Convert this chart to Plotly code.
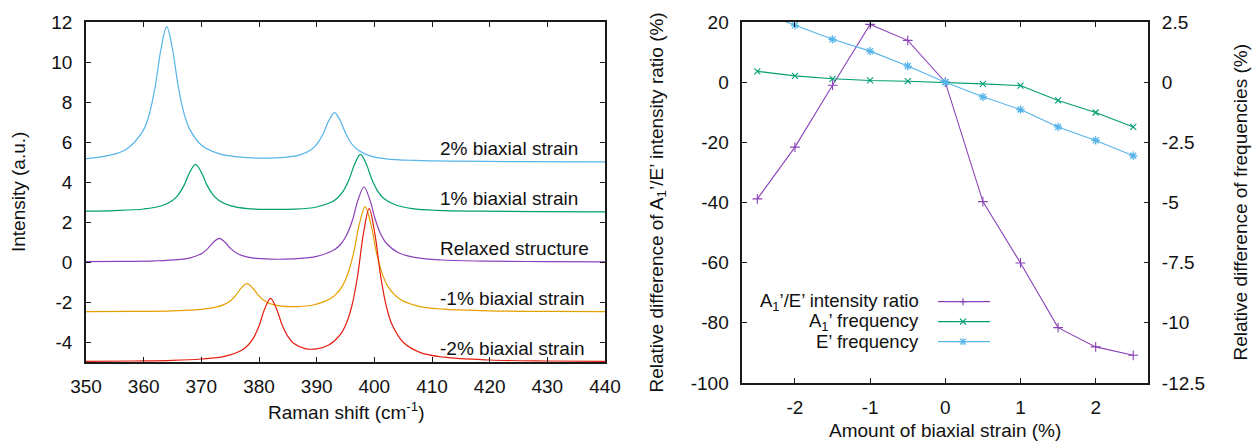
import plotly.graph_objects as go

W, H = 1252, 441

# ---------------- Left panel: Raman spectra ----------------
spec_names = ["2% biaxial strain", "1% biaxial strain", "Relaxed structure",
              "-1% biaxial strain", "-2% biaxial strain"]
spec_offsets = [5.0, 2.5, 0.0, -2.5, -5.0]

x_p2 = [350, 354, 357, 360, 361, 362, 363, 364, 365, 366, 367, 368, 370, 373, 378, 383,
        387.1, 389.1, 390.1, 391.1, 392.1, 393.1, 394.1, 395.1, 396.1, 397.1, 399.1, 402.1,
        407, 415, 425, 440]
y_p2 = [5.17, 5.33, 5.64, 6.62, 7.42, 8.77, 10.64, 11.77, 10.65, 8.77, 7.43, 6.63, 5.85,
        5.42, 5.22, 5.21, 5.36, 5.63, 5.92, 6.40, 7.07, 7.47, 7.06, 6.39, 5.90, 5.61, 5.32,
        5.16, 5.08, 5.04, 5.02, 5.01]

x_p1 = [350, 355, 360, 363, 365, 366, 367, 368, 369, 370, 371, 372, 373, 375, 378, 382,
        386, 390, 392.6, 393.6, 394.6, 395.6, 396.6, 397.6, 398.6, 399.6, 400.6, 401.6,
        403.6, 406.6, 411, 418, 428, 440]
y_p1 = [2.54, 2.57, 2.65, 2.80, 3.08, 3.36, 3.83, 4.49, 4.88, 4.49, 3.83, 3.37, 3.09, 2.82,
        2.67, 2.63, 2.64, 2.75, 3.00, 3.20, 3.54, 4.11, 4.90, 5.38, 4.90, 4.11, 3.53, 3.19,
        2.86, 2.67, 2.58, 2.54, 2.52, 2.51]

x_0 = [350, 356, 362, 366, 368.1, 369.1, 370.1, 371.1, 372.1, 373.1, 374.1, 375.1, 376.1,
       377.1, 379.1, 382, 386, 390, 393.2, 394.2, 395.2, 396.2, 397.2, 398.2, 399.2, 400.2,
       401.2, 402.2, 404.2, 407.2, 412, 420, 430, 440]
y_0 = [0.02, 0.03, 0.06, 0.12, 0.21, 0.30, 0.43, 0.67, 0.99, 1.18, 0.99, 0.67, 0.45, 0.32,
       0.19, 0.14, 0.16, 0.28, 0.64, 0.90, 1.35, 2.09, 3.13, 3.75, 3.13, 2.09, 1.34, 0.90,
       0.46, 0.22, 0.10, 0.04, 0.02, 0.01]

x_m1 = [350, 358, 365, 370, 372.9, 373.9, 374.9, 375.9, 376.9, 377.9, 378.9, 379.9, 380.9,
        381.9, 383.9, 386.5, 389.4, 392.4, 393.4, 394.4, 395.4, 396.4, 397.4, 398.4, 399.4,
        400.4, 401.4, 402.4, 404.4, 407.4, 412, 420, 430, 440]
y_m1 = [-2.48, -2.47, -2.44, -2.37, -2.23, -2.13, -1.97, -1.69, -1.31, -1.08, -1.30, -1.67,
        -1.93, -2.08, -2.21, -2.23, -2.15, -1.83, -1.59, -1.23, -0.60, 0.44, 1.89, 2.77,
        1.89, 0.43, -0.61, -1.24, -1.85, -2.19, -2.36, -2.44, -2.47, -2.48]

x_m2 = [350, 358, 365, 370, 374, 377, 378, 379, 380, 381, 382, 383, 384, 385, 386, 388, 390,
        392.1, 394.1, 395.1, 396.1, 397.1, 398.1, 399.1, 400.1, 401.1, 402.1, 403.1, 405.1,
        408, 412, 420, 430, 440]
y_m2 = [-4.97, -4.95, -4.92, -4.85, -4.72, -4.41, -4.19, -3.82, -3.20, -2.34, -1.82, -2.31,
        -3.14, -3.72, -4.06, -4.33, -4.34, -4.15, -3.63, -3.10, -2.20, -0.70, 1.41, 2.67,
        1.39, -0.72, -2.24, -3.15, -4.04, -4.53, -4.76, -4.90, -4.95, -4.97]

spec_x = [x_p2, x_p1, x_0, x_m1, x_m2]
spec_y = [y_p2, y_p1, y_0, y_m1, y_m2]
spec_colors = ["#56b4e9", "#009e73", "#8a42b8", "#e69f00", "#e51e10"]

left_xticks = [350, 360, 370, 380, 390, 400, 410, 420, 430, 440]
left_yticks = [-4, -2, 0, 2, 4, 6, 8, 10, 12]

# ---------------- Right panel: strain dependence ----------------
strain = [-2.5, -2.0, -1.5, -1.0, -0.5, 0.0, 0.5, 1.0, 1.5, 2.0, 2.5]
ratio_diff = [-38.8, -21.6, -1.0, 19.2, 13.9, 0.0, -39.7, -60.1, -81.6, -88.0, -90.8]
a1_freq_diff = [0.45, 0.26, 0.14, 0.07, 0.04, 0.0, -0.07, -0.14, -0.76, -1.26, -1.86]
e_freq_diff = [2.95, 2.36, 1.78, 1.29, 0.67, 0.0, -0.61, -1.14, -1.86, -2.42, -3.06]

right_xticks = [-2, -1, 0, 1, 2]
right_yticks = [-100, -80, -60, -40, -20, 0, 20]
right_y2ticks = [-12.5, -10, -7.5, -5, -2.5, 0, 2.5]
right_y2labels = ["-12.5", "-10", "-7.5", "-5", "-2.5", "0", "2.5"]

series_names = ["A<sub>1</sub>\u2019/E\u2019 intensity ratio", "A<sub>1</sub>\u2019 frequency",
                "E\u2019 frequency"]
series_colors = ["#8a42b8", "#009e73", "#56b4e9"]
series_symbols = ["cross-thin", "x-thin", "asterisk"]

FONT = "Liberation Sans, Arial, Helvetica, sans-serif"
TXT = "#111111"
AX = "#1a1a1a"


def px(x):
    return x / W


def py(y):
    return 1 - y / H


fig = go.Figure()

for xs, ys, c, n in zip(spec_x, spec_y, spec_colors, spec_names):
    fig.add_trace(go.Scatter(x=xs, y=ys, mode="lines", name=n,
                             line=dict(color=c, width=1.2, shape="spline", smoothing=1.0),
                             xaxis="x", yaxis="y", showlegend=False, hoverinfo="skip"))

fig.add_trace(go.Scatter(x=strain, y=ratio_diff, mode="lines+markers", name=series_names[0],
                         line=dict(color=series_colors[0], width=1.1),
                         marker=dict(symbol=series_symbols[0], size=7,
                                     line=dict(color=series_colors[0], width=1.1)),
                         xaxis="x2", yaxis="y2", showlegend=False))
fig.add_trace(go.Scatter(x=strain, y=a1_freq_diff, mode="lines+markers", name=series_names[1],
                         line=dict(color=series_colors[1], width=1.1),
                         marker=dict(symbol=series_symbols[1], size=6,
                                     line=dict(color=series_colors[1], width=1.1)),
                         xaxis="x2", yaxis="y3", showlegend=False))
fig.add_trace(go.Scatter(x=strain, y=e_freq_diff, mode="lines+markers", name=series_names[2],
                         line=dict(color=series_colors[2], width=1.1),
                         marker=dict(symbol=series_symbols[2], size=7,
                                     line=dict(color=series_colors[2], width=1.3)),
                         xaxis="x2", yaxis="y3", showlegend=False))

common = dict(showline=True, linecolor=AX, linewidth=1.5, ticks="inside", ticklen=5,
              tickwidth=1, tickcolor=AX, showgrid=False, zeroline=False,
              tickfont=dict(family=FONT, size=19, color=TXT), automargin=False)

fig.update_layout(
    width=W, height=H,
    margin=dict(l=0, r=0, t=0, b=0),
    paper_bgcolor="white", plot_bgcolor="white",
    showlegend=False,
    font=dict(family=FONT, size=19, color=TXT),
    xaxis=dict(domain=[px(86), px(605)], range=[350, 440], anchor="y", mirror="ticks",
               tickvals=left_xticks, ticktext=[str(v) for v in left_xticks],
               ticklabelstandoff=6, **common),
    yaxis=dict(domain=[py(362), py(22)], range=[-5, 12], anchor="x", mirror="ticks",
               tickvals=left_yticks, ticktext=[str(v) for v in left_yticks],
               ticklabelstandoff=8, **common),
    xaxis2=dict(domain=[px(742.3), px(1148.3)], range=[-2.7, 2.7], anchor="y2", mirror="ticks",
                tickvals=right_xticks, ticktext=[str(v) for v in right_xticks],
                ticklabelstandoff=6, **common),
    yaxis2=dict(domain=[py(383), py(22)], range=[-100, 20], anchor="x2", mirror=True,
                tickvals=right_yticks, ticktext=[str(v) for v in right_yticks],
                ticklabelstandoff=8, **common),
    yaxis3=dict(overlaying="y2", side="right", range=[-12.5, 2.5], anchor="x2",
                tickvals=right_y2ticks, ticktext=right_y2labels,
                ticklabelstandoff=8, **common),
)

annotations = []
# spectrum labels
for name, off in zip(spec_names, spec_offsets):
    annotations.append(dict(x=411, y=off + 0.7, xref="x", yref="y", text=name,
                            showarrow=False, xanchor="left", yanchor="middle",
                            font=dict(family=FONT, size=19, color=TXT)))

# axis titles
titles = [
    ("Intensity (a.u.)", 18, 192, -90),
    ("Raman shift (cm<sup>-1</sup>)", 345.5, 411, 0),
    ("Relative difference of A<sub>1</sub>\u2019/E\u2019 intensity ratio (%)", 658, 202.5, -90),
    ("Relative difference of frequencies (%)", 1240, 202.5, -90),
    ("Amount of biaxial strain (%)", 945, 430, 0),
]
for t, x, y, ang in titles:
    annotations.append(dict(x=px(x), y=py(y), xref="paper", yref="paper", text=t,
                            showarrow=False, xanchor="center", yanchor="middle",
                            textangle=ang, font=dict(family=FONT, size=19, color=TXT)))

# custom legend (text on the left, sample on the right, gnuplot style)
rows = [301.7, 321.7, 341.7]
shapes = []
for name, c, sym, ry in zip(series_names, series_colors, series_symbols, rows):
    annotations.append(dict(x=px(921), y=py(ry), xref="paper", yref="paper", text=name,
                            showarrow=False, xanchor="right", yanchor="middle",
                            font=dict(family=FONT, size=18.5, color=TXT)))
    shapes.append(dict(type="line", xref="paper", yref="paper", x0=px(938), x1=px(990),
                       y0=py(ry), y1=py(ry), line=dict(color=c, width=1.2)))
    mx = 963
    segs = []
    if sym in ("cross-thin", "asterisk"):
        segs += [((mx - 3.5, ry), (mx + 3.5, ry)), ((mx, ry - 3.5), (mx, ry + 3.5))]
    if sym in ("x-thin", "asterisk"):
        segs += [((mx - 3, ry - 3), (mx + 3, ry + 3)), ((mx - 3, ry + 3), (mx + 3, ry - 3))]
    for (a, b) in segs:
        shapes.append(dict(type="line", xref="paper", yref="paper",
                           x0=px(a[0]), y0=py(a[1]), x1=px(b[0]), y1=py(b[1]),
                           line=dict(color=c, width=1.2)))

fig.update_layout(annotations=annotations, shapes=shapes)

fig.write_html("out.html",
               config={"displayModeBar": False},
               post_script="document.body.style.margin='0px';"
                           "document.body.style.overflow='hidden';")
